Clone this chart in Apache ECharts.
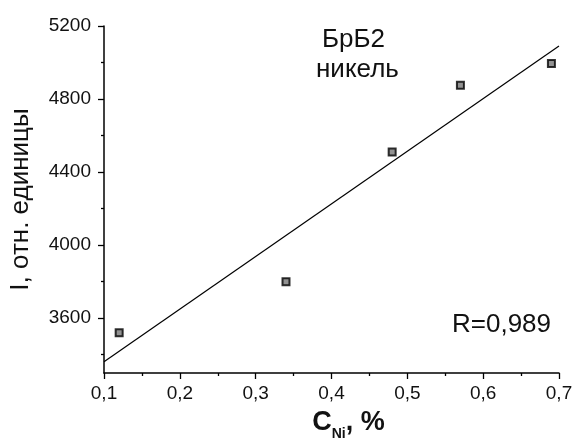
<!DOCTYPE html>
<html>
<head>
<meta charset="utf-8">
<script src="https://cdn.jsdelivr.net/npm/echarts@6/dist/echarts.min.js"></script>
<style>
html,body{margin:0;padding:0;background:#fff;}
#chart{width:576px;height:438px;}
</style>
</head>
<body>
<div id="chart"></div>
<script>
// Data
var concNi = [0.12, 0.34, 0.48, 0.57, 0.69];
var intensity = [3520, 3800, 4510, 4875, 4995];
var fitX = [0.1, 0.7];
var fitY = [3362, 5090];
var xTicks = [0.1, 0.2, 0.3, 0.4, 0.5, 0.6, 0.7];
var yTicks = [3600, 4000, 4400, 4800, 5200];
var yMinorTicks = [3400, 3800, 4200, 4600, 5000];
var titleLines = ['БрБ2', 'никель'];
var rText = 'R=0,989';

var FONT = '"Liberation Sans", Arial, sans-serif';
var chart = echarts.init(document.getElementById('chart'));

var points = concNi.map(function (x, i) { return [x, intensity[i]]; });
var fit = fitX.map(function (x, i) { return [x, fitY[i]]; });

var axisColor = '#000';

chart.setOption({
  animation: false,
  backgroundColor: '#ffffff',
  grid: { left: 104, right: 17, top: 26, bottom: 65, containLabel: false, outerBoundsMode: 'none' },
  xAxis: {
    type: 'value',
    min: 0.1, max: 0.7, interval: 0.1,
    axisLine: { show: true, onZero: false, lineStyle: { color: axisColor, width: 1.5 } },
    axisTick: { show: true, inside: false, length: 6, lineStyle: { color: axisColor, width: 1.3 } },
    minorTick: { show: true, splitNumber: 2, length: 3, lineStyle: { color: axisColor, width: 1.3 } },
    splitLine: { show: false },
    axisLabel: {
      margin: 11, fontSize: 19, fontFamily: FONT, color: '#111',
      formatter: function (v) { return (Math.round(v * 10) / 10).toFixed(1).replace('.', ','); }
    },
    name: '{a|C}{b|Ni}{a|, %}',
    nameLocation: 'middle',
    nameGap: 36,
    nameTextStyle: {
      padding: [0, 0, 0, 34],
      rich: {
        a: { fontSize: 27, fontWeight: 'bold', fontFamily: FONT, color: '#111', verticalAlign: 'bottom', padding: [0, 0, 5, 0] },
        b: { fontSize: 14, fontWeight: 'bold', fontFamily: FONT, color: '#111', verticalAlign: 'bottom' }
      }
    }
  },
  yAxis: [{
    type: 'value',
    min: 3300, max: 5200,
    axisLine: { show: true, onZero: false, lineStyle: { color: axisColor, width: 1.5 } },
    axisTick: { show: true, inside: false, length: 6, customValues: yTicks, lineStyle: { color: axisColor, width: 1.3 } },
    axisLabel: {
      margin: 13, fontSize: 19, fontFamily: FONT, color: '#111', customValues: yTicks,
      formatter: function (v) { return String(v); }
    },
    splitLine: { show: false },
    name: 'I, отн. единицы',
    nameLocation: 'middle',
    nameRotate: 90,
    nameGap: 70,
    nameTextStyle: { fontSize: 26, fontFamily: FONT, color: '#111' }
  }, {
    type: 'value',
    position: 'left',
    min: 3300, max: 5200,
    axisLine: { show: false },
    axisTick: { show: true, inside: false, length: 3, customValues: yMinorTicks, lineStyle: { color: axisColor, width: 1.3 } },
    axisLabel: { show: false },
    splitLine: { show: false }
  }],
  series: [{
    type: 'line',
    data: fit,
    showSymbol: false,
    symbol: 'none',
    lineStyle: { color: '#000', width: 1.2 },
    z: 2
  }, {
    type: 'scatter',
    data: points,
    symbol: 'rect',
    symbolSize: 7,
    itemStyle: { color: '#777', borderColor: '#000', borderWidth: 2 },
    z: 3
  }],
  graphic: [
    { type: 'text', left: 322, top: 27, style: { text: titleLines[0], font: '26px ' + FONT, fill: '#111' } },
    { type: 'text', left: 316, top: 57, style: { text: titleLines[1], font: '26px ' + FONT, fill: '#111' } },
    { type: 'text', left: 452, top: 312, style: { text: rText, font: '26px ' + FONT, fill: '#111' } }
  ]
});
</script>
</body>
</html>
